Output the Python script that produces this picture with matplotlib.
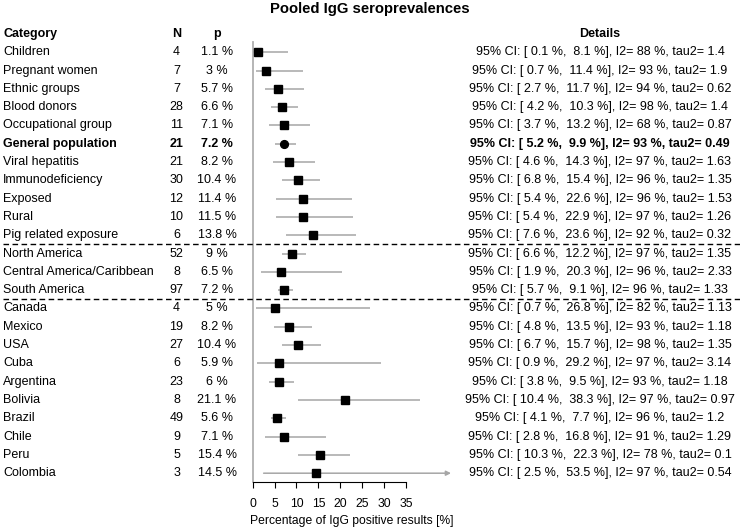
import matplotlib
matplotlib.use("Agg")
import matplotlib.pyplot as plt
from matplotlib.lines import Line2D
import matplotlib.transforms as mtransforms

plt.rcParams['font.family'] = ['Liberation Sans', 'DejaVu Sans']

categories = ["Children", "Pregnant women", "Ethnic groups", "Blood donors",
              "Occupational group", "General population", "Viral hepatitis",
              "Immunodeficiency", "Exposed", "Rural", "Pig related exposure",
              "North America", "Central America/Caribbean", "South America",
              "Canada", "Mexico", "USA", "Cuba", "Argentina", "Bolivia",
              "Brazil", "Chile", "Peru", "Colombia"]
n_studies = [4, 7, 7, 28, 11, 21, 21, 30, 12, 10, 6, 52, 8, 97, 4, 19, 27, 6, 23, 8, 49, 9, 5, 3]
pooled = [1.1, 3, 5.7, 6.6, 7.1, 7.2, 8.2, 10.4, 11.4, 11.5, 13.8, 9, 6.5, 7.2,
          5, 8.2, 10.4, 5.9, 6, 21.1, 5.6, 7.1, 15.4, 14.5]
ci_low = [0.1, 0.7, 2.7, 4.2, 3.7, 5.2, 4.6, 6.8, 5.4, 5.4, 7.6, 6.6, 1.9, 5.7,
          0.7, 4.8, 6.7, 0.9, 3.8, 10.4, 4.1, 2.8, 10.3, 2.5]
ci_high = [8.1, 11.4, 11.7, 10.3, 13.2, 9.9, 14.3, 15.4, 22.6, 22.9, 23.6, 12.2, 20.3, 9.1,
           26.8, 13.5, 15.7, 29.2, 9.5, 38.3, 7.7, 16.8, 22.3, 53.5]
i2 = [88, 93, 94, 98, 68, 93, 97, 96, 96, 97, 92, 97, 96, 96, 82, 93, 98, 97, 93, 97, 96, 91, 78, 97]
tau2 = [1.4, 1.9, 0.62, 1.4, 0.87, 0.49, 1.63, 1.35, 1.53, 1.26, 0.32, 1.35, 2.33, 1.33,
        1.13, 1.18, 1.35, 3.14, 1.18, 0.97, 1.2, 1.29, 0.1, 0.54]
summary_row = "General population"
group_breaks = [10.5, 13.5]
x_ticks = [0, 5, 10, 15, 20, 25, 30, 35]
headers = ["Category", "N", "p", "Details"]

W, H = 740, 529
fig = plt.figure(figsize=(W / 100, H / 100), dpi=100)

x_max = 45.3
nrows = len(categories)
ax_left, ax_right = 252.7, 451.0
ax_top, ax_bottom = 42.0, 481.7
row0, drow = 52.3, 18.3
ax = fig.add_axes([ax_left / W, 1 - ax_bottom / H, (ax_right - ax_left) / W, (ax_bottom - ax_top) / H])
ax.set_xlim(0, x_max)
ax.set_ylim((ax_bottom - row0) / drow, (ax_top - row0) / drow)

grey = "#a6a6a6"
for i, cat in enumerate(categories):
    lo, hi, p = ci_low[i], ci_high[i], pooled[i]
    if hi > x_max:
        ax.annotate("", xy=(x_max, i), xytext=(lo, i),
                    arrowprops=dict(arrowstyle="-|>", color=grey, lw=1.1,
                                    mutation_scale=7, shrinkA=0, shrinkB=0),
                    annotation_clip=False)
    else:
        ax.plot([lo, hi], [i, i], color=grey, lw=1.1, solid_capstyle="butt", clip_on=False)
    if cat == summary_row:
        ax.plot([p], [i], marker="o", ms=5.6, color="black", clip_on=False, zorder=5)
    else:
        ax.plot([p], [i], marker="s", ms=6.0, color="black", clip_on=False, zorder=5)

for s in ["top", "right"]:
    ax.spines[s].set_visible(False)
ax.spines["left"].set_color("#b0b0b0")
ax.spines["left"].set_linewidth(1.3)
ax.spines["bottom"].set_bounds(0, 35)
ax.spines["bottom"].set_linewidth(0.8)
ax.set_yticks([])
ax.set_xticks(x_ticks)
ax.tick_params(axis="x", direction="out", length=4.5, width=0.8, pad=7.5, labelsize=8.7)
ax.set_xlabel("Percentage of IgG positive results [%]", fontsize=8.7, labelpad=3.5)
ax.patch.set_visible(False)

# text columns
trans = mtransforms.blended_transform_factory(fig.transFigure, ax.transData)
x_cat, x_n, x_p, x_det = 3 / W, 176.5 / W, 217 / W, 600 / W
fs = 9
for (hx, ha), h in zip([(x_cat, "left"), (x_n, "center"), (x_p, "center"), (x_det, "center")], headers):
    fig.text(hx, -0.98, h, transform=trans, ha=ha, va="center", fontsize=fs, fontweight="bold")

for i, cat in enumerate(categories):
    fw = "bold" if cat == summary_row else "normal"
    fig.text(x_cat, i, cat, transform=trans, ha="left", va="center", fontsize=fs, fontweight=fw)
    fig.text(x_n, i, f"{n_studies[i]}", transform=trans, ha="center", va="center", fontsize=fs, fontweight=fw)
    fig.text(x_p, i, f"{pooled[i]:g} %", transform=trans, ha="center", va="center", fontsize=fs, fontweight=fw)
    det = f"95% CI: [ {ci_low[i]:g} %,  {ci_high[i]:g} %], I2= {i2[i]} %, tau2= {tau2[i]:g}"
    fig.text(x_det, i, det, transform=trans, ha="center", va="center", fontsize=fs, fontweight=fw)

for yb in group_breaks:
    fig.add_artist(Line2D([3 / W, 1.0], [yb, yb], transform=trans, color="black",
                          lw=1.0, linestyle=(0, (4, 2.5))))

fig.text(370 / W, 1 - 9.5 / H, "Pooled IgG seroprevalences", ha="center", va="center",
         fontsize=10.7, fontweight="bold")

fig.savefig("out.png", dpi=100)
